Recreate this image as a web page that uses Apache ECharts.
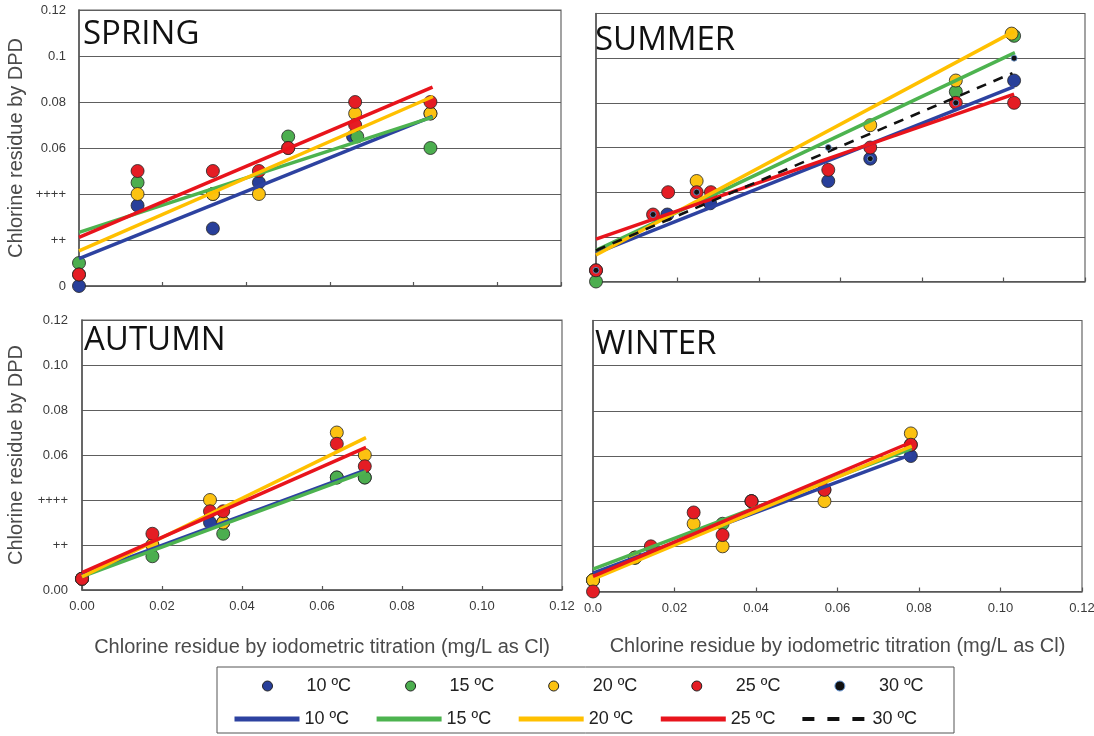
<!DOCTYPE html>
<html><head><meta charset="utf-8">
<script src="https://cdn.jsdelivr.net/npm/echarts@6.0.0/dist/echarts.min.js"></script>
<style>html,body{margin:0;padding:0;background:#fff;}#c{width:1094px;height:736px;}</style>
</head><body><div id="c"></div>
<script>
// ---------- tick labels & names ----------
const tempLabels = ['10 ºC','15 ºC','20 ºC','25 ºC','30 ºC'];
const seasonTitles = ['SPRING','SUMMER','AUTUMN','WINTER'];
const xTickLabelsAutumn = ['0.00','0.02','0.04','0.06','0.08','0.10','0.12'];
const xTickLabelsWinter = ['0.0','0.02','0.04','0.06','0.08','0.10','0.12'];
const yTickLabelsSpring = ['0','++','++++','0.06','0.08','0.1','0.12'];
const yTickLabelsAutumn = ['0.00','++','++++','0.06','0.08','0.10','0.12'];
const xAxisTitle = 'Chlorine residue by iodometric titration (mg/L as Cl)';
const yAxisTitle = 'Chlorine residue by DPD';

// ---------- measured points [iodometric, DPD] ----------
const spring10 = [[0,0],[0.014,0.035],[0.032,0.025],[0.043,0.045],[0.0655,0.065],[0.084,0.075]];
const spring15 = [[0,0.01],[0.014,0.045],[0.032,0.04],[0.050,0.065],[0.0665,0.065],[0.084,0.06]];
const spring20 = [[0,0.005],[0.014,0.04],[0.032,0.04],[0.043,0.04],[0.050,0.06],[0.066,0.075],[0.084,0.075]];
const spring25 = [[0,0.005],[0.014,0.05],[0.032,0.05],[0.043,0.05],[0.050,0.06],[0.066,0.08],[0.066,0.07],[0.084,0.08]];

const summer10 = [[0,0.005],[0.0175,0.03],[0.028,0.035],[0.057,0.045],[0.0673,0.055],[0.1026,0.09]];
const summer15 = [[0,0],[0.0883,0.085],[0.1026,0.11]];
const summer20 = [[0.0247,0.045],[0.0673,0.07],[0.0883,0.09],[0.1020,0.111]];
const summer25 = [[0,0.005],[0.014,0.03],[0.0177,0.04],[0.0247,0.04],[0.0282,0.04],[0.057,0.05],[0.0673,0.06],[0.0883,0.08],[0.1026,0.08]];
const summer30 = [[0,0.005],[0.014,0.03],[0.0247,0.04],[0.057,0.06],[0.0673,0.055],[0.0883,0.08],[0.1026,0.10]];

const autumn10 = [[0,0.005],[0.0176,0.02],[0.032,0.03],[0.0353,0.03],[0.0637,0.05],[0.0707,0.05]];
const autumn15 = [[0,0.005],[0.0176,0.015],[0.0353,0.025],[0.0637,0.05],[0.0707,0.05]];
const autumn20 = [[0,0.005],[0.0176,0.02],[0.032,0.04],[0.0353,0.03],[0.0637,0.07],[0.0707,0.06]];
const autumn25 = [[0,0.005],[0.0176,0.025],[0.032,0.035],[0.0353,0.035],[0.0637,0.065],[0.0707,0.055]];

const winter10 = [[0,0.005],[0.0103,0.015],[0.0389,0.04],[0.0568,0.045],[0.078,0.06]];
const winter15 = [[0,0.005],[0.0103,0.015],[0.0318,0.03],[0.0389,0.04],[0.078,0.065]];
const winter20 = [[0,0.005],[0.0103,0.015],[0.0247,0.03],[0.0318,0.02],[0.0568,0.04],[0.078,0.07]];
const winter25 = [[0,0],[0.0142,0.02],[0.0247,0.035],[0.0318,0.025],[0.0389,0.04],[0.0568,0.045],[0.078,0.065]];

// ---------- fitted lines (endpoints) ----------
const springFit10 = [[0,0.0119],[0.0845,0.0737]];
const springFit15 = [[0,0.0233],[0.0845,0.0734]];
const springFit20 = [[0,0.0153],[0.0846,0.0824]];
const springFit25 = [[0,0.0211],[0.0845,0.0865]];

const summerFit10 = [[0,0.0127],[0.1026,0.0873]];
const summerFit15 = [[0,0.0139],[0.1028,0.1025]];
const summerFit20 = [[0,0.0119],[0.1026,0.112]];
const summerFit25 = [[0,0.019],[0.1026,0.0839]];
const summerFit30 = [[0,0.0139],[0.1022,0.0933]];

const autumnFit10 = [[0,0.0067],[0.0705,0.053]];
const autumnFit15 = [[0,0.0059],[0.071,0.0526]];
const autumnFit20 = [[0,0.0059],[0.071,0.0677]];
const autumnFit25 = [[0,0.0077],[0.071,0.0634]];

const winterFit10 = [[0,0.0081],[0.0782,0.0607]];
const winterFit15 = [[0,0.0099],[0.0782,0.0633]];
const winterFit20 = [[0,0.0055],[0.0782,0.0644]];
const winterFit25 = [[0,0.0067],[0.0782,0.0662]];

// ---------- styling / layout ----------
const pointColors = ['#283f9a','#4cae4f','#fcc211','#e41d24','#111111'];
const lineColors  = ['#2d42a0','#4db34f','#ffc000','#e8141c','#111111'];
const pointSets = [
  [spring10, spring15, spring20, spring25, null],
  [summer10, summer15, summer20, summer25, summer30],
  [autumn10, autumn15, autumn20, autumn25, null],
  [winter10, winter15, winter20, winter25, null]
];
const fitSets = [
  [springFit10, springFit15, springFit20, springFit25, null],
  [summerFit10, summerFit15, summerFit20, summerFit25, summerFit30],
  [autumnFit10, autumnFit15, autumnFit20, autumnFit25, null],
  [winterFit10, winterFit15, winterFit20, winterFit25, null]
];
const gridBoxes = [
  {left:79, top:10, width:482, height:276},
  {left:596, top:13.5, width:489, height:268},
  {left:82, top:320, width:480, height:270},
  {left:593, top:320.5, width:489, height:271}
];
const xMaxes = [0.1152, 0.12, 0.12, 0.12];
const xLabelSets = [null, null, xTickLabelsAutumn, xTickLabelsWinter];
const yLabelSets = [yTickLabelsSpring, null, yTickLabelsAutumn, null];
const titlePos = [{left:83, top:14.5},{left:595, top:20.5},{left:84, top:320.5},{left:595, top:324.5}];
const yNameGaps = [53, 0, 56, 0];
const xNameGaps = [0, 0, 47, 45];

const labelFont = 'Liberation Sans, Arial, sans-serif';
const axisColor = '#555';

const grid = gridBoxes.map(g => Object.assign({show:true, borderColor:'#666', borderWidth:1.2, containLabel:false, outerBoundsMode:'none'}, g));

const xAxis = gridBoxes.map((g, i) => ({
  type:'value', gridIndex:i, min:0, max:xMaxes[i], interval:0.02,
  axisLine:{show:true, onZero:false, lineStyle:{color:axisColor, width:1.5}},
  axisTick:{show:true, inside:true, length:4, lineStyle:{color:axisColor, width:1.2}},
  splitLine:{show:false},
  axisLabel:{show: !!xLabelSets[i], margin:10, color:'#3a3a3a', fontSize:13, fontFamily:labelFont,
    formatter: v => xLabelSets[i] ? xLabelSets[i][Math.round(v/0.02)] : ''},
  name: xNameGaps[i] ? xAxisTitle : '', nameLocation:'middle', nameGap:xNameGaps[i],
  nameTextStyle:{color:'#4a4a4a', fontSize:20, fontFamily:labelFont, lineHeight:20}
}));

const yAxis = gridBoxes.map((g, i) => ({
  type:'value', gridIndex:i, min:0, max:0.12, interval:0.02,
  axisLine:{show:true, onZero:false, lineStyle:{color:axisColor, width:1.5}},
  axisTick:{show:false},
  splitLine:{show:true, lineStyle:{color:'#5e5e5e', width:1.2}},
  axisLabel:{show: !!yLabelSets[i], margin: i===0 ? 13 : 14, color:'#3a3a3a', fontSize:13, fontFamily:labelFont,
    formatter: v => yLabelSets[i] ? yLabelSets[i][Math.round(v/0.02)] : ''},
  name: yNameGaps[i] ? yAxisTitle : '', nameLocation:'middle', nameGap:yNameGaps[i], nameRotate:90,
  nameTextStyle:{color:'#4a4a4a', fontSize:20, fontFamily:labelFont, lineHeight:20}
}));

const title = seasonTitles.map((t, i) => ({
  text:t, left:titlePos[i].left, top:titlePos[i].top, padding:0,
  textStyle:{fontFamily:'Open Sans, Noto Sans, sans-serif', fontWeight:'normal', fontSize:33, lineHeight:40, color:'#111'}
}));

const series = [];
pointSets.forEach((sets, p) => {
  sets.forEach((pts, t) => {
    if (!pts) return;
    const is30 = t === 4;
    series.push({
      type:'scatter', name:'p'+t, xAxisIndex:p, yAxisIndex:p, data:pts, clip:false,
      symbol:'circle', symbolSize: is30 ? 6 : 13, z: is30 ? 6 : 2,
      itemStyle:{color:pointColors[t], borderColor: is30 ? '#6b9ad8' : 'rgba(35,35,35,0.8)', borderWidth: is30 ? 0.8 : 1, opacity:1},
      emphasis:{disabled:true}, silent:true
    });
  });
});
fitSets.forEach((sets, p) => {
  sets.forEach((pts, t) => {
    if (!pts) return;
    const is30 = t === 4;
    series.push({
      type:'line', name:'l'+t, xAxisIndex:p, yAxisIndex:p, data:pts, clip:false,
      symbol:'none', showSymbol:false, z: is30 ? 5 : 4,
      lineStyle:{color:lineColors[t], width: is30 ? 2.6 : 3.5, type: is30 ? [10, 8] : 'solid', cap:'butt'},
      itemStyle:{color:lineColors[t]},
      emphasis:{disabled:true}, silent:true
    });
  });
});

const legendText = {color:'#222', fontSize:18, fontFamily:labelFont, lineHeight:20};
const legend = [
  {
    left:262, top:676, padding:0, orient:'horizontal', itemWidth:10, itemHeight:10, itemGap:54,
    selectedMode:false,
    data:[0,1,2,3,4].map(t => ({name:'p'+t, icon:'circle',
      itemStyle:{color:pointColors[t], borderColor: t===4 ? '#6b9ad8' : '#222', borderWidth:1}})),
    formatter: n => tempLabels[+n.slice(1)],
    textStyle:Object.assign({padding:[0,0,0,29]}, legendText)
  },
  {
    left:232, top:709, padding:0, orient:'horizontal', itemWidth:65, itemHeight:10, itemGap:25,
    selectedMode:false,
    data:[0,1,2,3,4].map(t => ({name:'l'+t,
      itemStyle:{opacity:0, color:'transparent', borderWidth:0},
      lineStyle:{color:lineColors[t], width: t===4 ? 4 : 5, type: t===4 ? [12, 13] : 'solid', cap:'butt'}})),
    formatter: n => tempLabels[+n.slice(1)], textStyle:legendText
  }
];

const chart = echarts.init(document.getElementById('c'), null, {renderer:'canvas'});
chart.setOption({
  backgroundColor:'#fff', animation:false,
  title, grid, xAxis, yAxis, legend, series,
  graphic:[{type:'rect', shape:{x:217, y:667, width:737, height:66}, style:{fill:'none', stroke:'#555', lineWidth:1}, silent:true}]
});
</script></body></html>
